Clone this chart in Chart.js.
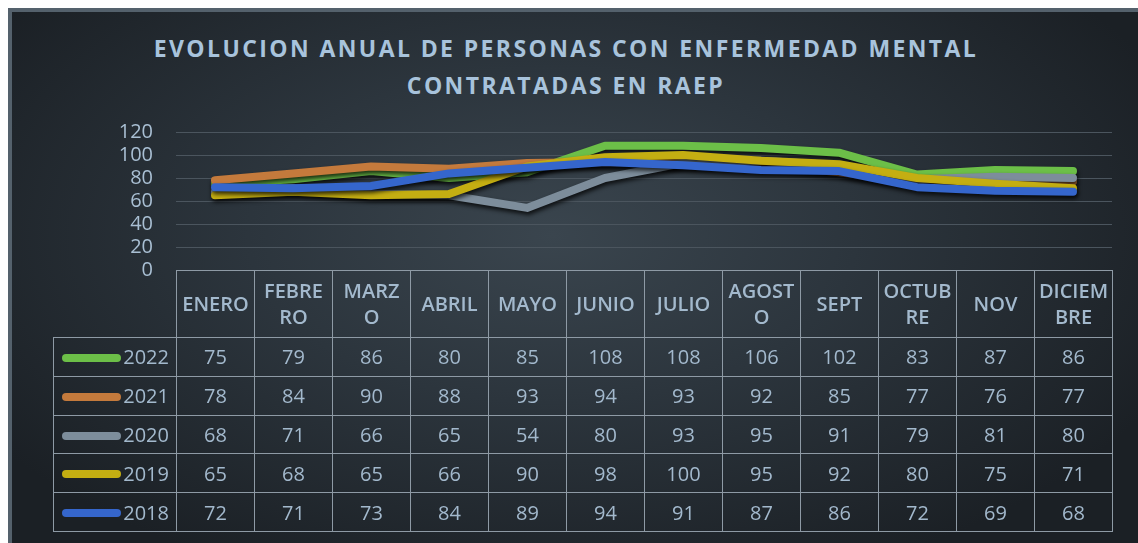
<!DOCTYPE html>
<html>
<head>
<meta charset="utf-8">
<script src="https://cdn.jsdelivr.net/npm/chart.js@4"></script>
<style>
  html, body { margin: 0; padding: 0; background: #ffffff; width: 1138px; height: 543px; overflow: hidden; }
  #frame {
    position: absolute; left: 8px; top: 8px; width: 1130px; height: 535px;
    box-sizing: border-box; border-top: 4px solid #54616c; border-left: 4px solid #54616c;
    background: radial-gradient(ellipse 60% 70% at 48% 42%, #3a454e 0%, #2c353d 45%, #1b2025 100%);
  }
  #title {
    position: absolute; left: 8px; width: 1116px; top: 30px; text-align: center;
    font-family: "Open Sans", sans-serif; font-weight: 700; font-size: 23px; line-height: 37px;
    letter-spacing: 2.4px; color: #a8c3dc;
  }
  #cv { position: absolute; left: 0; top: 0; }
  #tbl {
    position: absolute; left: 53px; top: 270px; border-collapse: collapse; table-layout: fixed;
    font-family: "Open Sans", sans-serif; color: #a3b9cd;
  }
  #tbl td { border: 1px solid #8e9aa5; padding: 0; text-align: center; vertical-align: middle; overflow: hidden; white-space: nowrap; }
  #tbl tr.hdr td { height: 66px; font-size: 20px; font-weight: 600; line-height: 26px; }
  #tbl tr.hdr td.blank { border: none; }
  #tbl tr.row td { height: 37.8px; font-size: 20px; }
  #tbl td.leg { text-align: right; padding-right: 7px; font-size: 20px; }
  .sw { display: inline-block; width: 59px; height: 8px; border-radius: 4px; vertical-align: middle; margin-right: 2px; position: relative; top: -1px; }
</style>
</head>
<body>
<div id="frame"></div>
<div id="title">EVOLUCION ANUAL DE PERSONAS CON ENFERMEDAD MENTAL<br>CONTRATADAS EN RAEP</div>
<canvas id="cv" width="1138" height="543"></canvas>
<table id="tbl"></table>
<script>
const categories = ['ENERO', ['FEBRE', 'RO'], ['MARZ', 'O'], 'ABRIL', 'MAYO', 'JUNIO', 'JULIO', ['AGOST', 'O'], 'SEPT', ['OCTUB', 'RE'], 'NOV', ['DICIEM', 'BRE']];
const seriesNames = ['2022', '2021', '2020', '2019', '2018'];
const s2022 = [75, 79, 86, 80, 85, 108, 108, 106, 102, 83, 87, 86];
const s2021 = [78, 84, 90, 88, 93, 94, 93, 92, 85, 77, 76, 77];
const s2020 = [68, 71, 66, 65, 54, 80, 93, 95, 91, 79, 81, 80];
const s2019 = [65, 68, 65, 66, 90, 98, 100, 95, 92, 80, 75, 71];
const s2018 = [72, 71, 73, 84, 89, 94, 91, 87, 86, 72, 69, 68];
const yTicks = [0, 20, 40, 60, 80, 100, 120];

const seriesValues = [s2022, s2021, s2020, s2019, s2018];
const colors = ['#6cbf48', '#c47a3c', '#7d8d9b', '#c4ae12', '#3566cc'];

const shadowPlugin = {
  id: 'shadow',
  beforeDatasetDraw(chart) {
    const ctx = chart.ctx; ctx.save();
    ctx.shadowColor = 'rgba(0,0,0,0.75)'; ctx.shadowBlur = 4; ctx.shadowOffsetX = 1; ctx.shadowOffsetY = 3;
  },
  afterDatasetDraw(chart) { chart.ctx.restore(); }
};

const chart = new Chart(document.getElementById('cv'), {
  type: 'line',
  data: {
    labels: categories,
    datasets: seriesNames.map((n, i) => ({
      label: n, data: seriesValues[i], borderColor: colors[i], backgroundColor: colors[i],
      borderWidth: 8, pointRadius: 0, tension: 0, borderCapStyle: 'round', borderJoinStyle: 'round',
      order: seriesNames.length - i
    }))
  },
  options: {
    responsive: false, animation: false, devicePixelRatio: 1,
    layout: { padding: { left: 0, right: 26, top: 132, bottom: 273 } },
    plugins: { legend: { display: false }, title: { display: false }, tooltip: { enabled: false } },
    scales: {
      x: { display: false, offset: true },
      y: {
        min: 0, max: 120,
        afterBuildTicks(scale) { scale.ticks = yTicks.map(v => ({ value: v })); },
        afterFit(scale) { scale.width = 176; },
        border: { display: false },
        grid: { color: '#4b555e', lineWidth: 1, drawTicks: false },
        ticks: { padding: 23, autoSkip: false, color: '#a9bfd3', font: { family: 'Open Sans', size: 20, lineHeight: 1 } }
      }
    }
  },
  plugins: [shadowPlugin]
});

// build data table
const tbl = document.getElementById('tbl');
const colg = document.createElement('colgroup');
const c0 = document.createElement('col'); c0.style.width = '123px'; colg.appendChild(c0);
categories.forEach(() => { const c = document.createElement('col'); c.style.width = '78px'; colg.appendChild(c); });
tbl.appendChild(colg);
const hr = document.createElement('tr'); hr.className = 'hdr';
const blank = document.createElement('td'); blank.className = 'blank'; hr.appendChild(blank);
categories.forEach(c => {
  const td = document.createElement('td');
  td.innerHTML = Array.isArray(c) ? c.join('<br>') : c;
  hr.appendChild(td);
});
tbl.appendChild(hr);
seriesNames.forEach((n, i) => {
  const tr = document.createElement('tr'); tr.className = 'row';
  const lg = document.createElement('td'); lg.className = 'leg';
  lg.innerHTML = '<span class="sw" style="background:' + colors[i] + '"></span>' + n;
  tr.appendChild(lg);
  seriesValues[i].forEach(v => { const td = document.createElement('td'); td.textContent = v; tr.appendChild(td); });
  tbl.appendChild(tr);
});
tbl.style.width = (123 + 78 * categories.length) + 'px';
</script>
</body>
</html>
